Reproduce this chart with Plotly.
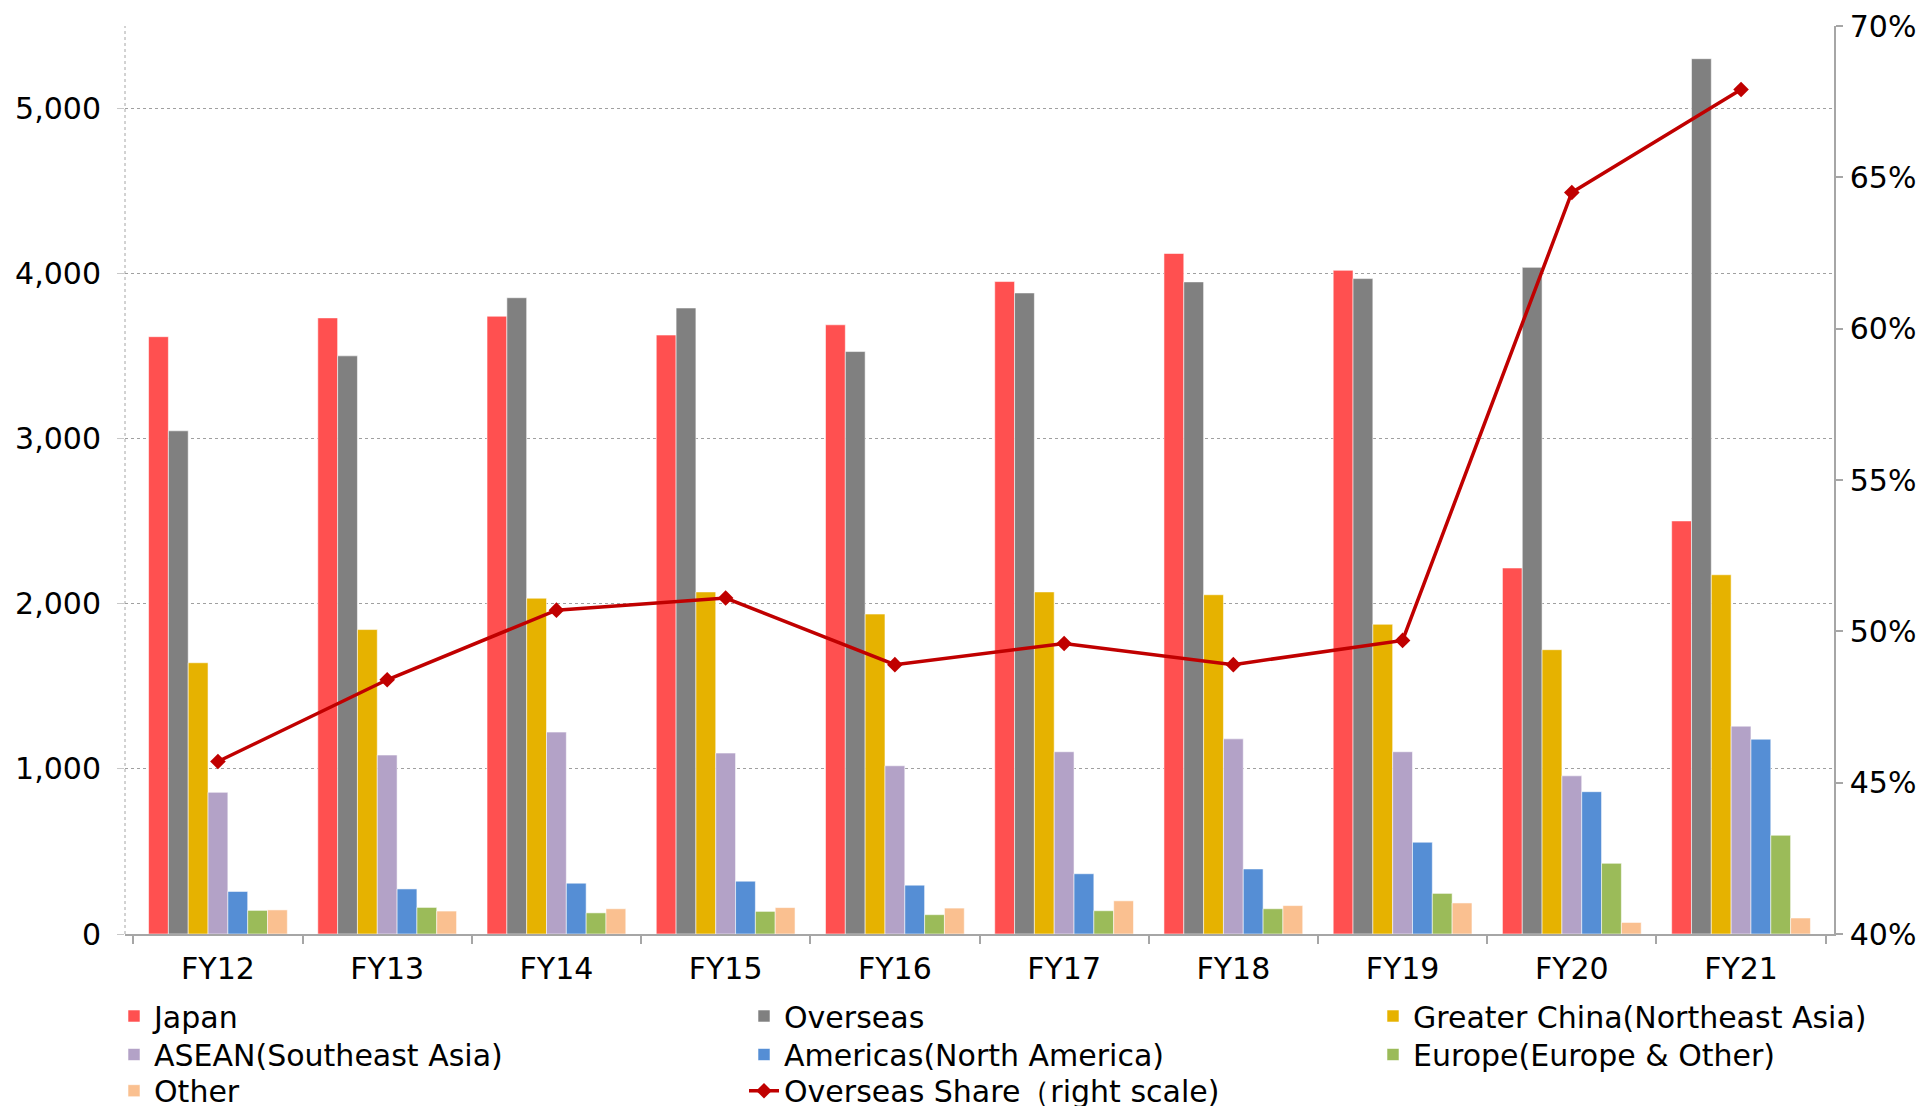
import plotly.graph_objects as go

categories = ["FY12", "FY13", "FY14", "FY15", "FY16", "FY17", "FY18", "FY19", "FY20", "FY21"]

japan = [3618, 3732, 3742, 3628, 3690, 3952, 4122, 4020, 2217, 2502]
overseas = [3048, 3502, 3854, 3792, 3528, 3883, 3950, 3970, 4038, 5302]
greater_china = [1643, 1844, 2034, 2072, 1938, 2072, 2055, 1876, 1722, 2176]
asean = [858, 1084, 1223, 1096, 1019, 1104, 1182, 1104, 958, 1259]
americas = [258, 273, 308, 320, 296, 365, 394, 556, 862, 1180]
europe = [143, 161, 128, 137, 117, 141, 153, 246, 428, 598]
other = [146, 139, 153, 160, 157, 201, 172, 188, 70, 97]
overseas_share = [0.457, 0.484, 0.507, 0.511, 0.489, 0.496, 0.489, 0.497, 0.645, 0.679]

bar_series = [
    ("Japan", japan, "#FF5050", "legend"),
    ("Overseas", overseas, "#808080", "legend2"),
    ("Greater China(Northeast Asia)", greater_china, "#E6B200", "legend3"),
    ("ASEAN(Southeast Asia)", asean, "#B3A2C7", "legend4"),
    ("Americas(North America)", americas, "#558ED5", "legend5"),
    ("Europe(Europe & Other)", europe, "#9BBB59", "legend6"),
    ("Other", other, "#FAC090", "legend7"),
]

FONT = "DejaVu Sans"
FS = 30
fig = go.Figure()
for name, vals, color, lg in bar_series:
    fig.add_trace(go.Bar(
        x=categories, y=vals, name=name, legend=lg, showlegend=True,
        marker=dict(color=color, line=dict(color="rgba(255,255,255,0.55)", width=1)),
        yaxis="y",
    ))

fig.add_trace(go.Scatter(
    x=categories, y=overseas_share, name="Overseas Share（right scale)", legend="legend8",
    showlegend=True, mode="lines+markers", yaxis="y2",
    line=dict(color="#C00000", width=3.5),
    marker=dict(symbol="diamond", size=12, color="#C00000"),
))

W, H = 1926, 1106
L, R, T, B = 117, 100, 18, 180
pw, ph = W - L - R, H - T - B

col_left = [106, 736, 1365]
row_center = [1008, 1046.5, 1082.7]
item_h = 1.3 * FS + 3
row_top = [c - 5 - item_h / 2 for c in row_center]
positions = [(0, 0), (1, 0), (2, 0), (0, 1), (1, 1), (2, 1), (0, 2), (1, 2)]
legend_layout = {}
for i, (c, r) in enumerate(positions):
    key = "legend" if i == 0 else f"legend{i+1}"
    legend_layout[key] = dict(
        x=(col_left[c] - L) / pw, y=(H - B - row_top[r]) / ph,
        xanchor="left", yanchor="top", orientation="v",
        font=dict(family=FONT, size=FS, color="black"),
        bgcolor="rgba(0,0,0,0)", borderwidth=0,
    )

fig.update_layout(
    width=W, height=H, showlegend=True,
    margin=dict(l=L, r=R, t=T, b=B, autoexpand=False),
    paper_bgcolor="white", plot_bgcolor="white",
    barmode="group", bargap=0.18, bargroupgap=0,
    font=dict(family=FONT, size=FS, color="black"),
    xaxis=dict(
        type="category", showline=True, linecolor="#A6A6A6", linewidth=1.5,
        ticks="outside", tickson="boundaries", ticklen=8, tickcolor="#A6A6A6", tickwidth=1.5,
        showgrid=False, tickfont=dict(family=FONT, size=FS, color="black"),
        ticklabelstandoff=7,
    ),
    yaxis=dict(
        range=[0, 5500], dtick=1000, tick0=0, tickformat=",",
        showgrid=True, gridcolor="#A0A0A0", griddash="dot", gridwidth=1,
        zeroline=False, showline=False,
        ticks="outside", ticklen=7, tickcolor="#C8C8C8",
        tickfont=dict(family=FONT, size=FS, color="black"),
        ticklabelstandoff=10, ticklabeloverflow="allow",
    ),
    yaxis2=dict(
        overlaying="y", side="right", range=[0.40, 0.70], dtick=0.05, tick0=0.40,
        tickformat=".0%", showgrid=False, zeroline=False,
        showline=True, linecolor="#A6A6A6", linewidth=1.5,
        ticks="outside", ticklen=7, tickcolor="#A6A6A6", tickwidth=1.5,
        tickfont=dict(family=FONT, size=FS, color="black"),
        ticklabelstandoff=1, ticklabeloverflow="allow",
    ),
    shapes=[dict(type="line", xref="paper", yref="paper", x0=0, x1=0, y0=0, y1=1,
                 line=dict(color="#A6A6A6", width=1, dash="dot"), layer="below")],
    **legend_layout,
)

fig.write_html("out.html")
